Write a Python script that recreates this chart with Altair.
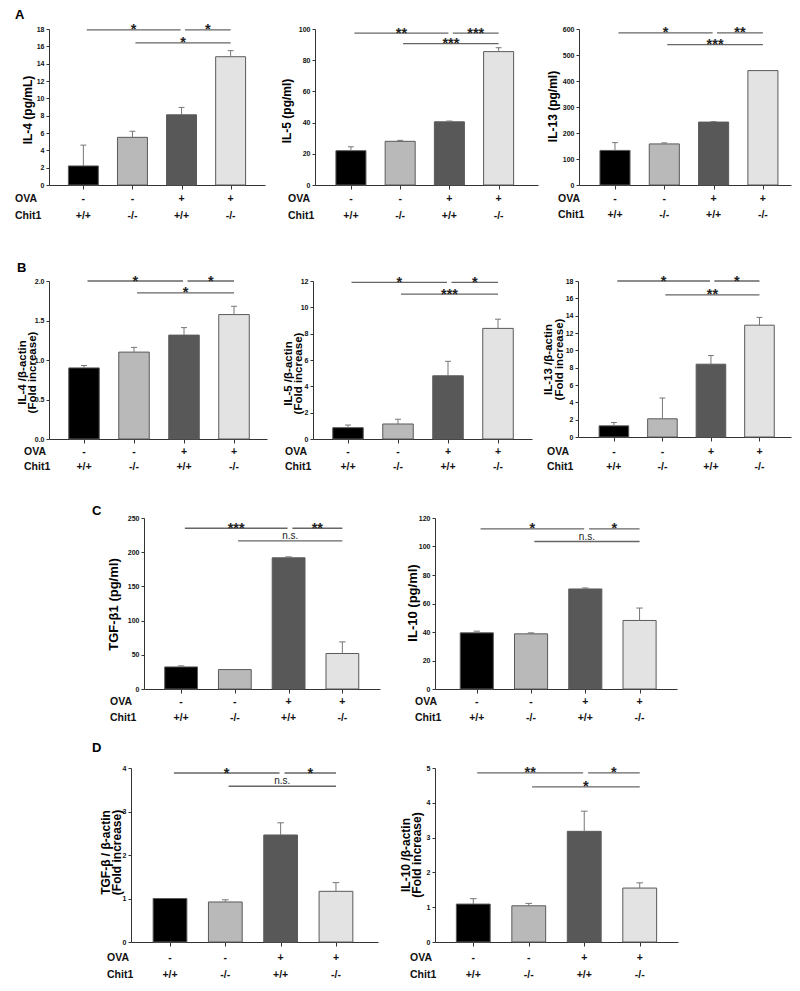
import altair as alt
import pandas as pd

FONT = "Liberation Sans"

# ---------------- data ----------------
group_names = ["OVA- Chit1+/+", "OVA- Chit1-/-", "OVA+ Chit1+/+", "OVA+ Chit1-/-"]
ova_row = ["-", "-", "+", "+"]
chit1_row = ["+/+", "-/-", "+/+", "-/-"]
bracket_pairs = [(0, 2), (2, 3), (1, 3)]

# A: BAL cytokine protein
il4_prot_mean = [2.2, 5.5, 8.1, 14.8]
il4_prot_sem = [2.4, 0.7, 0.85, 0.7]
il4_prot_sig = ["*", "*", "*"]
il4_prot_sig_y = [17.9, 17.9, 16.4]

il5_prot_mean = [22.0, 28.0, 40.5, 85.5]
il5_prot_sem = [2.5, 0.6, 0.5, 2.5]
il5_prot_sig = ["**", "***", "***"]
il5_prot_sig_y = [97.4, 97.4, 90.6]

il13_prot_mean = [133, 158, 242, 440]
il13_prot_sem = [30, 4, 2, 0]
il13_prot_sig = ["*", "**", "***"]
il13_prot_sig_y = [585, 585, 540]

# B: mRNA fold increase
il4_mrna_mean = [0.90, 1.10, 1.315, 1.575]
il4_mrna_sem = [0.03, 0.06, 0.095, 0.105]
il4_mrna_sig = ["*", "*", "*"]
il4_mrna_sig_y = [2.0, 2.0, 1.85]

il5_mrna_mean = [0.86, 1.14, 4.8, 8.4]
il5_mrna_sem = [0.2, 0.36, 1.1, 0.7]
il5_mrna_sig = ["*", "*", "***"]
il5_mrna_sig_y = [11.9, 11.9, 11.0]

il13_mrna_mean = [1.29, 2.1, 8.4, 12.9]
il13_mrna_sem = [0.38, 2.4, 1.0, 0.9]
il13_mrna_sig = ["*", "*", "**"]
il13_mrna_sig_y = [18.0, 18.0, 16.4]

# C: protein
tgf_prot_mean = [32.3, 28.4, 191.8, 51.9]
tgf_prot_sem = [1.5, 0, 1.4, 17]
tgf_prot_sig = ["***", "**", "n.s."]
tgf_prot_sig_y = [235, 235, 216.7]

il10_prot_mean = [39.4, 38.7, 70.2, 48.1]
il10_prot_sem = [1.2, 0.7, 0.7, 8.7]
il10_prot_sig = ["*", "*", "n.s."]
il10_prot_sig_y = [112.4, 112.4, 103.5]

# D: mRNA
tgf_mrna_mean = [1.0, 0.92, 2.46, 1.165]
tgf_mrna_sem = [0, 0.05, 0.28, 0.2]
tgf_mrna_sig = ["*", "*", "n.s."]
tgf_mrna_sig_y = [3.885, 3.885, 3.58]

il10_mrna_mean = [1.09, 1.04, 3.18, 1.55]
il10_mrna_sem = [0.155, 0.07, 0.58, 0.15]
il10_mrna_sig = ["**", "*", "*"]
il10_mrna_sig_y = [4.86, 4.86, 4.46]

# ---------------- styling / layout ----------------
bar_colors = ["#000000", "#b9b9b9", "#585858", "#e3e3e3"]
AX = "#333333"
ERR = "#777777"
LINE = "#666666"

# box = (left, right, top, bottom) margins around each plot area
PANELS = {
    "A1": dict(mean=il4_prot_mean, sem=il4_prot_sem, sig=il4_prot_sig, sig_y=il4_prot_sig_y,
               ymax=18, yticks=list(range(0, 19, 2)), fmt="d", title="IL-4 (pg/mL)", tsize=12,
               tx=-22, ty=80.5, w=216, h=156, xdom=(-0.70, 3.70), lab_x=-34, rows=(13.7, 31),
               box=(39, 7, 20.5, 53.5), letter=("A", -34, -10)),
    "A2": dict(mean=il5_prot_mean, sem=il5_prot_sem, sig=il5_prot_sig, sig_y=il5_prot_sig_y,
               ymax=100, yticks=list(range(0, 101, 20)), fmt="d", title="IL-5 (pg/ml)", tsize=12,
               tx=-28.5, ty=81.5, w=223, h=156, xdom=(-0.73, 3.80), lab_x=-27, rows=(13.7, 31),
               box=(43, 3, 20.5, 53.5)),
    "A3": dict(mean=il13_prot_mean, sem=il13_prot_sem, sig=il13_prot_sig, sig_y=il13_prot_sig_y,
               ymax=600, yticks=list(range(0, 601, 100)), fmt="d", title="IL-13 (pg/ml)", tsize=12,
               tx=-27, ty=77, w=212, h=156, xdom=(-0.73, 3.57), lab_x=-21, rows=(14, 30),
               box=(38, 1, 20.5, 53.5)),
    "B1": dict(mean=il4_mrna_mean, sem=il4_mrna_sem, sig=il4_mrna_sig, sig_y=il4_mrna_sig_y,
               ymax=2.0, yticks=[0, 0.5, 1.0, 1.5, 2.0], fmt=".1f",
               title=["IL-4 /β-actin", "(Fold increase)"], tsize=11.5,
               tx=-27, ty=91, w=218, h=158, xdom=(-0.70, 3.66), lab_x=-25, rows=(13, 28),
               box=(39, 5, 41.5, 49.5), letter=("B", -32, -9)),
    "B2": dict(mean=il5_mrna_mean, sem=il5_mrna_sem, sig=il5_mrna_sig, sig_y=il5_mrna_sig_y,
               ymax=12, yticks=list(range(0, 13, 2)), fmt="d",
               title=["IL-5 /β-actin", "(Fold increase)"], tsize=11.5,
               tx=-25, ty=92, w=219, h=158, xdom=(-0.70, 3.68), lab_x=-28, rows=(13, 28),
               box=(41, 2, 41.5, 49.5)),
    "B3": dict(mean=il13_mrna_mean, sem=il13_mrna_sem, sig=il13_mrna_sig, sig_y=il13_mrna_sig_y,
               ymax=18, yticks=list(range(0, 19, 2)), fmt="d",
               title=["IL-13 /β-actin", "(Fold increase)"], tsize=11.5,
               tx=-29.5, ty=78, w=213, h=156, xdom=(-0.74, 3.65), lab_x=-31, rows=(14.5, 29.5),
               box=(44, 1, 41.5, 51.5)),
    "C1": dict(mean=tgf_prot_mean, sem=tgf_prot_sem, sig=tgf_prot_sig, sig_y=tgf_prot_sig_y,
               ymax=250, yticks=list(range(0, 251, 50)), fmt="d", title="TGF-β1 (pg/ml)", tsize=13,
               tx=-30.5, ty=86, w=236, h=171, xdom=(-0.69, 3.70), lab_x=-34, rows=(13, 29),
               box=(52, 15, 28.5, 50), letter=("C", -52, -3)),
    "C2": dict(mean=il10_prot_mean, sem=il10_prot_sem, sig=il10_prot_sig, sig_y=il10_prot_sig_y,
               ymax=120, yticks=list(range(0, 121, 20)), fmt="d", title="IL-10 (pg/ml)", tsize=13,
               tx=-22.5, ty=84.5, w=242, h=171, xdom=(-0.77, 3.69), lab_x=-20, rows=(13, 29),
               box=(40, 23, 28.5, 50)),
    "D1": dict(mean=tgf_mrna_mean, sem=tgf_mrna_sem, sig=tgf_mrna_sig, sig_y=tgf_mrna_sig_y,
               ymax=4, yticks=[0, 1, 2, 3, 4], fmt="d",
               title=["TGF-β / β-actin", "(Fold increase)"], tsize=12,
               tx=-26, ty=84, w=247, h=174, xdom=(-0.705, 3.76), lab_x=-24, rows=(16, 33),
               box=(40, 10, 28.5, 38.5), letter=("D", -39, -16)),
    "D2": dict(mean=il10_mrna_mean, sem=il10_mrna_sem, sig=il10_mrna_sig, sig_y=il10_mrna_sig_y,
               ymax=5, yticks=[0, 1, 2, 3, 4, 5], fmt="d",
               title=["IL-10 /β-actin", "(Fold increase)"], tsize=12,
               tx=-30, ty=86.5, w=243, h=174, xdom=(-0.69, 3.69), lab_x=-25, rows=(16, 33),
               box=(47, 22, 28.5, 38.5)),
}


def make_panel(p):
    w, h = p["w"], p["h"]
    df = pd.DataFrame({
        "pos": [0, 1, 2, 3],
        "group": group_names,
        "mean": p["mean"],
        "sem": p["sem"],
        "upper": [m + s for m, s in zip(p["mean"], p["sem"])],
        "ova": ova_row,
        "chit1": chit1_row,
    })
    br = pd.DataFrame({
        "a": [a for a, b in bracket_pairs],
        "b": [b for a, b in bracket_pairs],
        "y": p["sig_y"],
        "label": p["sig"],
    })

    xs = alt.Scale(domain=list(p["xdom"]), nice=False, zero=False)
    ys = alt.Scale(domain=[0, p["ymax"]], nice=False, zero=True)
    xaxis = alt.Axis(values=[0, 1, 2, 3], labels=False, title=None, grid=False,
                     ticks=True, tickSize=4, domainColor=AX, tickColor=AX)
    yaxis = alt.Axis(values=p["yticks"], format=p["fmt"], title=p["title"], grid=False,
                     tickSize=3, labelPadding=2, titleFontSize=p["tsize"],
                     titleX=p["tx"], titleY=p["ty"], titleBaseline="middle",
                     titleAlign="center", titleLineHeight=p["tsize"] - 1,
                     domainColor=AX, tickColor=AX)

    def X(f):
        return alt.X(f, scale=xs, axis=xaxis)

    def Y(f):
        return alt.Y(f, scale=ys, axis=yaxis)

    ML, MR, MT, MB = p["box"]
    frame = alt.Chart(pd.DataFrame({"k": [0]})).mark_rect(opacity=0).encode(
        x=alt.value(-ML), x2=alt.value(w + MR), y=alt.value(-MT), y2=alt.value(h + MB))

    bars = alt.Chart(df).transform_calculate(
        xl="datum.pos - 0.305", xr="datum.pos + 0.305", base="0"
    ).mark_rect(stroke="#5a5a5a", strokeWidth=1).encode(
        x=X("xl:Q"), x2="xr:Q", y=Y("mean:Q"), y2="base:Q",
        fill=alt.Fill("group:N", scale=alt.Scale(domain=group_names, range=bar_colors), legend=None),
    )
    whisk = alt.Chart(df).transform_filter("datum.sem > 0").mark_rule(
        color=ERR, strokeWidth=1
    ).encode(x=X("pos:Q"), y=Y("mean:Q"), y2="upper:Q")
    cap = alt.Chart(df).transform_filter("datum.sem > 0").transform_calculate(
        cl="datum.pos - 0.06", cr="datum.pos + 0.06"
    ).mark_rule(color=ERR, strokeWidth=1).encode(x=X("cl:Q"), x2="cr:Q", y=Y("upper:Q"))

    brc = alt.Chart(br).transform_calculate(
        x1="datum.a + (datum.a == 1 ? 0.06 : 0.07)",
        x2="datum.b == 2 ? datum.b - 0.02 : datum.b",
    ).transform_calculate(xm="(datum.x1 + datum.x2) / 2")
    lines = brc.mark_rule(color=LINE, strokeWidth=1.3).encode(
        x=X("x1:Q"), x2="x2:Q", y=Y("y:Q"))
    stars = brc.transform_filter("datum.label != 'n.s.'").mark_text(
        fontSize=14.5, fontWeight="bold", color="#222", baseline="alphabetic", dy=4.5
    ).encode(x=X("xm:Q"), y=Y("y:Q"), text="label:N")
    ns = brc.transform_filter("datum.label == 'n.s.'").mark_text(
        fontSize=10, color="#222", baseline="alphabetic", dy=-2
    ).encode(x=X("xm:Q"), y=Y("y:Q"), text="label:N")

    r1, r2 = p["rows"]
    tstyle = dict(fontSize=10.5, fontWeight="bold", color="#111", baseline="middle")
    ova_t = alt.Chart(df).mark_text(**tstyle).encode(
        x=X("pos:Q"), y=alt.value(h + r1), text="ova:N")
    chit_t = alt.Chart(df).mark_text(**tstyle).encode(
        x=X("pos:Q"), y=alt.value(h + r2), text="chit1:N")
    hdr1 = alt.Chart(pd.DataFrame({"t": ["OVA"]})).mark_text(align="left", **tstyle).encode(
        x=alt.value(p["lab_x"]), y=alt.value(h + r1), text="t:N")
    hdr2 = alt.Chart(pd.DataFrame({"t": ["Chit1"]})).mark_text(align="left", **tstyle).encode(
        x=alt.value(p["lab_x"]), y=alt.value(h + r2), text="t:N")

    layers = [frame, bars, whisk, cap, lines, stars, ns, ova_t, chit_t, hdr1, hdr2]
    if "letter" in p:
        L, lx, ly = p["letter"]
        layers.append(alt.Chart(pd.DataFrame({"t": [L]})).mark_text(
            fontSize=13, fontWeight="bold", color="#000", align="left", baseline="alphabetic"
        ).encode(x=alt.value(lx), y=alt.value(ly), text="t:N"))
    return alt.layer(*layers).properties(width=w, height=h)


def spacer(ws):
    return alt.Chart(pd.DataFrame({"k": [0]})).mark_rect(opacity=0).encode(
        x=alt.value(0), x2=alt.value(ws), y=alt.value(0), y2=alt.value(1)
    ).properties(width=ws, height=1)


P = {k: make_panel(v) for k, v in PANELS.items()}

rowA = alt.hconcat(P["A1"], P["A2"], P["A3"], spacing=0)
rowB = alt.hconcat(P["B1"], P["B2"], P["B3"], spacing=0)
rowC = alt.hconcat(spacer(43), P["C1"], P["C2"], spacing=0)
rowD = alt.hconcat(spacer(42), P["D1"], P["D2"], spacing=0)

chart = alt.vconcat(rowA, rowB, rowC, rowD, spacing=0).properties(
    padding={"left": 2, "top": 0, "right": 0, "bottom": 0}
).configure(
    font=FONT
).configure_view(
    stroke=None
).configure_axis(
    labelFont=FONT, labelFontSize=7, labelFontWeight="bold", labelColor="#111",
    titleFont=FONT, titleFontWeight="bold", titleColor="#000",
)

chart.save("out.html", embed_options={"renderer": "svg", "actions": False})
